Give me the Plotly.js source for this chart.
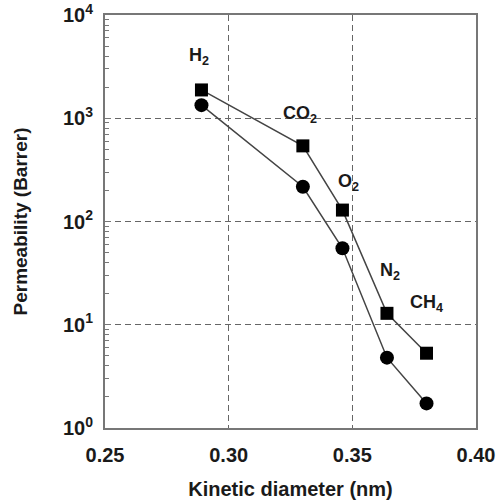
<!DOCTYPE html>
<html>
<head>
<meta charset="utf-8">
<script src="https://cdn.plot.ly/plotly-3.0.1.min.js"></script>
<style>html,body{margin:0;padding:0;background:#fff;}#chart{width:496px;height:500px;}</style>
</head>
<body>
<div id="chart"></div>
<script>
// Data
var gases = ['H<sub>2</sub>', 'CO<sub>2</sub>', 'O<sub>2</sub>', 'N<sub>2</sub>', 'CH<sub>4</sub>'];
var diameter = [0.289, 0.330, 0.346, 0.364, 0.380];
var permSquare = [1880, 540, 129, 12.9, 5.3];
var permCircle = [1340, 217, 55, 4.8, 1.73];
var yTickVals = [1, 10, 100, 1000, 10000];
var yTickText = ['10<sup>0</sup>', '10<sup>1</sup>', '10<sup>2</sup>', '10<sup>3</sup>', '10<sup>4</sup>'];
var xTickVals = [0.25, 0.30, 0.35, 0.40];
var xTickText = ['0.25', '0.30', '0.35', '0.40'];

// label offsets (pixels) relative to square markers
var labelShiftX = [-2, -3, 6, 3, 0];
var labelShiftY = [33, 31, 28, 42, 50];

var minorVals = [];
for (var d = 1; d < 10000; d *= 10) {
  for (var k = 2; k <= 9; k++) minorVals.push(k * d);
}

var lineColor = '#444';
var font = 'Liberation Sans, Arial, Helvetica, sans-serif';
var textColor = '#1a1a1a';

var traces = [
  {
    x: diameter, y: permSquare, type: 'scatter', mode: 'lines+markers',
    line: {color: lineColor, width: 1.5},
    marker: {symbol: 'square', size: 13, color: '#000'},
    hoverinfo: 'none'
  },
  {
    x: diameter, y: permCircle, type: 'scatter', mode: 'lines+markers',
    line: {color: lineColor, width: 1.5},
    marker: {symbol: 'circle', size: 14, color: '#000'},
    hoverinfo: 'none'
  }
];

var annotations = gases.map(function (g, i) {
  return {
    x: diameter[i], y: Math.log10(permSquare[i]), xref: 'x', yref: 'y',
    text: '<b>' + g + '</b>', showarrow: false,
    xshift: labelShiftX[i], yshift: labelShiftY[i],
    font: {family: font, size: 18, color: textColor}
  };
});

var layout = {
  width: 496, height: 500,
  margin: {l: 105, r: 20, t: 15, b: 72, pad: 0},
  paper_bgcolor: '#fff', plot_bgcolor: '#fff',
  showlegend: false,
  xaxis: {
    range: [0.25, 0.40],
    tickvals: xTickVals, ticktext: xTickText.map(function (t) { return '<b>' + t + '</b>'; }),
    ticks: '', showline: true, mirror: true,
    linecolor: '#777', linewidth: 2,
    showgrid: true, gridcolor: '#666', gridwidth: 1, griddash: '6px,4px',
    zeroline: false,
    ticklabelstandoff: 8,
    ticklabeloverflow: 'allow',
    tickfont: {family: font, size: 20, color: textColor},
    title: {text: '<b>Kinetic diameter (nm)</b>', font: {family: font, size: 20, color: textColor}, standoff: 22},
    automargin: false
  },
  yaxis: {
    type: 'log', range: [0, 4],
    tickvals: yTickVals, ticktext: yTickText.map(function (t) { return '<b>' + t + '</b>'; }),
    ticks: 'inside', ticklen: 6, tickcolor: '#777', tickwidth: 1,
    minor: {tickvals: minorVals, ticks: 'inside', ticklen: 4, tickcolor: '#777', tickwidth: 1, showgrid: false},
    showline: true, mirror: true,
    linecolor: '#777', linewidth: 2,
    showgrid: true, gridcolor: '#666', gridwidth: 1, griddash: '6px,4px',
    zeroline: false,
    ticklabelstandoff: 6,
    ticklabeloverflow: 'allow',
    tickfont: {family: font, size: 20, color: textColor},
    title: {text: '<b>Permeability (Barrer)</b>', font: {family: font, size: 19, color: textColor}, standoff: 30},
    automargin: false
  },
  annotations: annotations
};

Plotly.newPlot('chart', traces, layout, {staticPlot: true, displayModeBar: false});
</script>
</body>
</html>
